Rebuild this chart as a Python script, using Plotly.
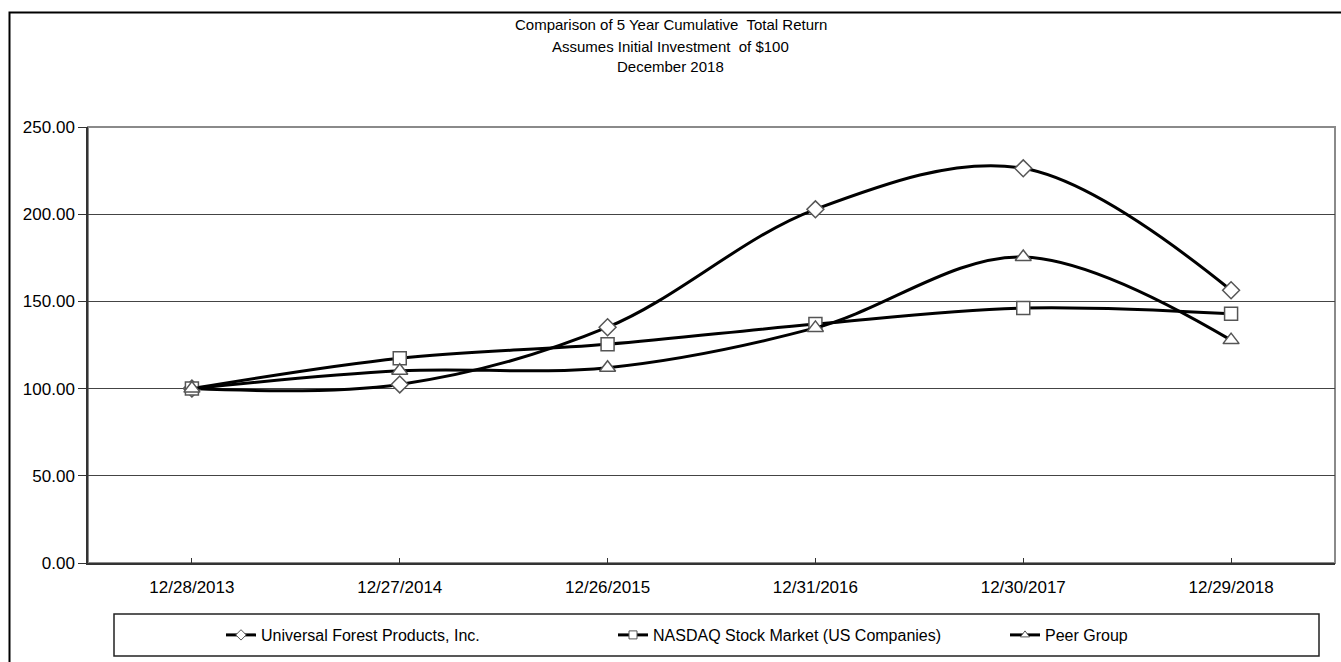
import plotly.graph_objects as go

dates = ["12/28/2013", "12/27/2014", "12/26/2015", "12/31/2016", "12/30/2017", "12/29/2018"]
ufp = [100.00, 102.4, 135.2, 202.8, 226.3, 156.4]
nasdaq = [100.00, 117.4, 125.4, 137.0, 146.2, 142.9]
peer = [100.00, 110.2, 112.0, 134.8, 175.5, 127.8]
series_names = ["Universal Forest Products, Inc.", "NASDAQ Stock Market (US Companies)", "Peer Group"]
y_ticks = [0, 50, 100, 150, 200, 250]
title_lines = ["Comparison of 5 Year Cumulative  Total Return",
               "Assumes Initial Investment  of $100",
               "December 2018"]

FONT = "Liberation Sans, Arial, sans-serif"
W, H = 1341, 662
L, R, T, B = 88, 6, 127, 99
PW, PH = W - L - R, H - T - B

def px_x(p):
    return (p - L) / PW

def px_y(p):
    return (H - B - p) / PH

fig = go.Figure()
symbols = ["diamond", "square", "triangle-up"]
sizes = [13, 13, 14]
legend_widths = [347, 347, 90]
for name, vals, sym, sz, lw in zip(series_names, [ufp, nasdaq, peer], symbols, sizes, legend_widths):
    fig.add_trace(go.Scatter(
        x=dates, y=vals, name=name, mode="lines+markers",
        line=dict(color="black", width=3, shape="spline", smoothing=1),
        marker=dict(symbol=sym, size=sz, color="white", line=dict(color="#555", width=1.5)),
        showlegend=False, cliponaxis=False,
    ))
    # legend entry with smaller marker
    fig.add_trace(go.Scatter(
        x=[None], y=[None], name=name, mode="lines+markers",
        line=dict(color="black", width=3),
        marker=dict(symbol=sym, size=8, color="white", line=dict(color="#555", width=1)),
        showlegend=True, legendwidth=lw,
    ))

shapes = [
    dict(type="rect", xref="paper", yref="paper",
         x0=px_x(9.5), x1=px_x(1350), y0=px_y(680), y1=px_y(12.5),
         line=dict(color="black", width=2), fillcolor="rgba(0,0,0,0)", layer="below"),
    dict(type="rect", xref="paper", yref="paper", x0=0, x1=1, y0=0, y1=1,
         line=dict(color="#8a8a8a", width=2), layer="below"),
    dict(type="rect", xref="paper", yref="paper",
         x0=px_x(114), x1=px_x(1319), y0=px_y(656), y1=px_y(614),
         line=dict(color="#222", width=1.5), layer="below"),
]

annotations = []
for i, (txt, yc) in enumerate(zip(title_lines, [24, 46, 67])):
    annotations.append(dict(
        text=txt, xref="paper", yref="paper",
        x=px_x(W / 2), y=px_y(yc), xanchor="center", yanchor="middle",
        showarrow=False, font=dict(family=FONT, size=15, color="black"),
    ))

fig.update_layout(
    width=W, height=H,
    margin=dict(l=L, r=R, t=T, b=B),
    paper_bgcolor="white", plot_bgcolor="white",
    font=dict(family=FONT, color="black"),
    xaxis=dict(
        type="category", range=[-0.5, 5.5],
        showline=True, linecolor="#333", linewidth=1.5,
        ticks="inside", ticklen=5, tickcolor="#333", tickwidth=1,
        showgrid=False, tickfont=dict(size=17, family=FONT, color="black"),
        ticklabelstandoff=8,
    ),
    yaxis=dict(
        range=[0, 250], tickvals=y_ticks, tickformat=".2f",
        showline=True, linecolor="#333", linewidth=1.5,
        ticks="outside", ticklen=8, tickcolor="#333", tickwidth=1,
        showgrid=True, gridcolor="#444", gridwidth=1.3,
        zeroline=False,
        tickfont=dict(size=17, family=FONT, color="black"),
    ),
    legend=dict(
        orientation="h", x=px_x(221), xanchor="left", y=px_y(635), yanchor="middle",
        entrywidthmode="pixels",
        font=dict(size=16, family=FONT, color="black"),
        bgcolor="rgba(0,0,0,0)", borderwidth=0,
        itemwidth=30,
    ),
    shapes=shapes,
    annotations=annotations,
)

fig.write_html("out.html")
